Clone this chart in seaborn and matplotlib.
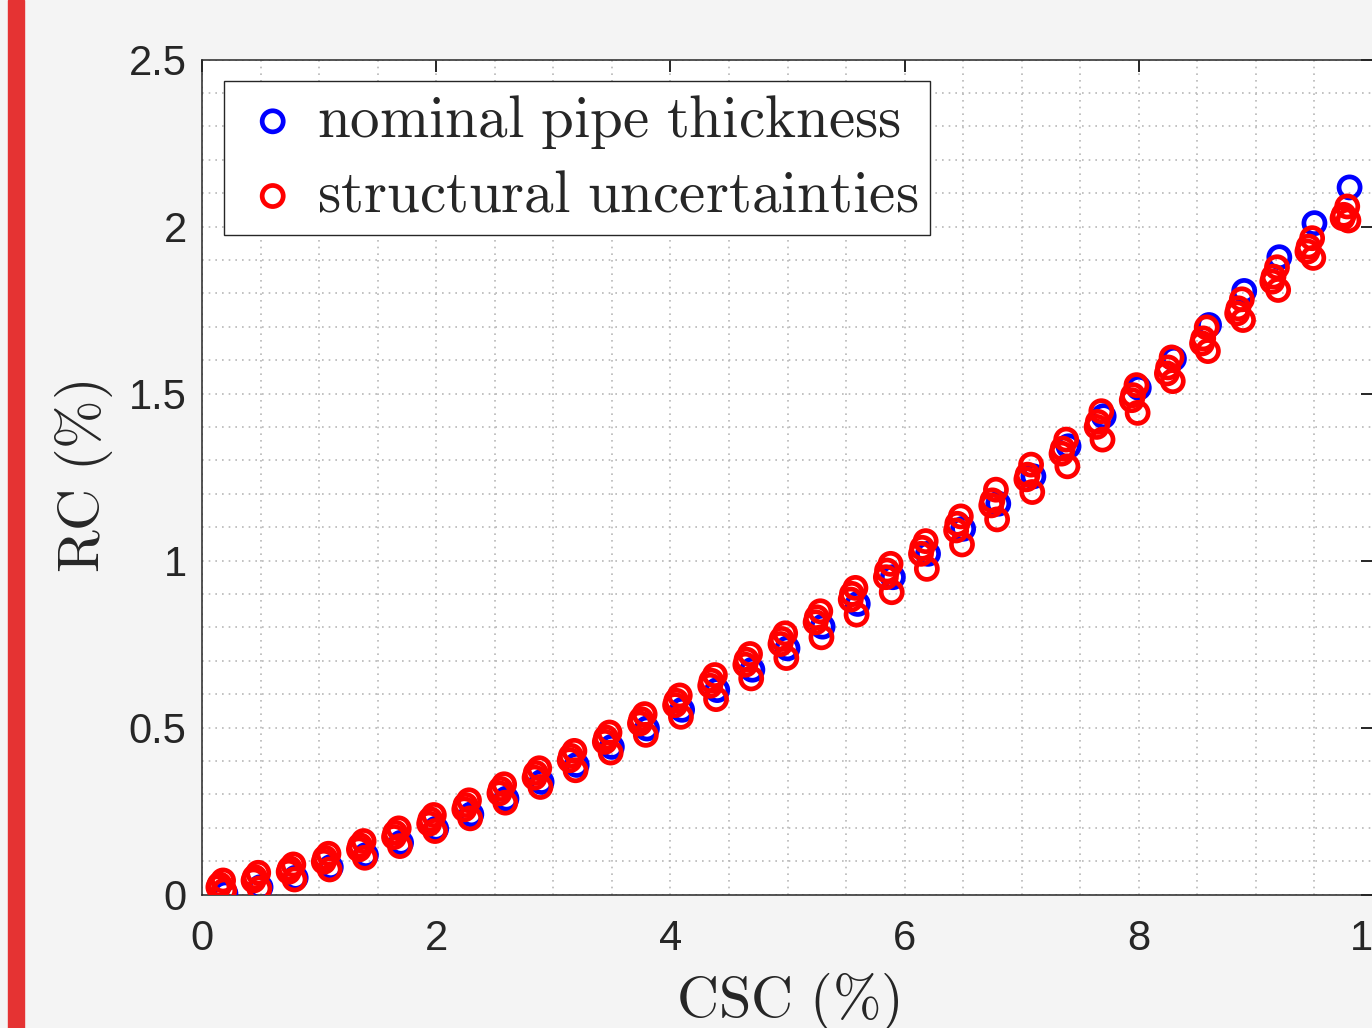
import pandas as pd
import matplotlib
matplotlib.use("Agg")
import matplotlib.pyplot as plt
from matplotlib.patches import Rectangle
from matplotlib.ticker import MultipleLocator
import seaborn as sns

# nominal pipe thickness (blue)
csc_nominal = [0.2, 0.5, 0.8, 1.1, 1.4, 1.7, 2.0, 2.3, 2.6, 2.9, 3.2, 3.5, 3.8, 4.1, 4.4, 4.7, 5.0,
               5.3, 5.6, 5.9, 6.2, 6.5, 6.8, 7.1, 7.4, 7.7, 8.0, 8.3, 8.6, 8.9, 9.2, 9.5, 9.8]
rc_nominal = [0.003, 0.022, 0.050, 0.082, 0.118, 0.155, 0.197, 0.240, 0.287, 0.337, 0.388, 0.442,
              0.497, 0.553, 0.612, 0.673, 0.737, 0.802, 0.870, 0.950, 1.020, 1.095, 1.170, 1.252,
              1.342, 1.432, 1.517, 1.604, 1.705, 1.807, 1.908, 2.010, 2.117]

# structural uncertainties (red), four samples per load step
csc_unc_a = [0.18, 0.48, 0.78, 1.08, 1.38, 1.68, 1.98, 2.28, 2.58, 2.88, 3.18, 3.48, 3.78, 4.08, 4.38,
             4.68, 4.98, 5.28, 5.58, 5.88, 6.18, 6.48, 6.78, 7.08, 7.38, 7.68, 7.98, 8.28, 8.58, 8.88,
             9.18, 9.48, 9.78]
rc_unc_a = [0.042, 0.065, 0.090, 0.122, 0.160, 0.198, 0.238, 0.282, 0.330, 0.378, 0.430, 0.485, 0.540,
            0.596, 0.657, 0.720, 0.782, 0.848, 0.918, 0.990, 1.058, 1.132, 1.212, 1.287, 1.362, 1.447,
            1.525, 1.608, 1.698, 1.782, 1.878, 1.965, 2.060]
csc_unc_b = [0.15, 0.45, 0.75, 1.05, 1.35, 1.65, 1.95, 2.25, 2.55, 2.85, 3.15, 3.45, 3.75, 4.05, 4.35,
             4.65, 4.95, 5.25, 5.55, 5.85, 6.15, 6.45, 6.75, 7.05, 7.35, 7.65, 7.95, 8.25, 8.55, 8.85,
             9.15, 9.45, 9.75]
rc_unc_b = [0.030, 0.052, 0.078, 0.110, 0.147, 0.185, 0.225, 0.268, 0.316, 0.364, 0.415, 0.470, 0.525,
            0.580, 0.640, 0.703, 0.765, 0.830, 0.900, 0.970, 1.038, 1.110, 1.180, 1.257, 1.335, 1.415,
            1.495, 1.578, 1.665, 1.755, 1.850, 1.940, 2.035]
csc_unc_c = [0.14, 0.44, 0.74, 1.04, 1.34, 1.64, 1.94, 2.24, 2.54, 2.84, 3.14, 3.44, 3.74, 4.04, 4.34,
             4.64, 4.94, 5.24, 5.54, 5.84, 6.14, 6.44, 6.74, 7.04, 7.34, 7.64, 7.94, 8.24, 8.54, 8.84,
             9.14, 9.44, 9.74]
rc_unc_c = [0.022, 0.042, 0.068, 0.098, 0.135, 0.172, 0.212, 0.255, 0.303, 0.350, 0.402, 0.457, 0.512,
            0.567, 0.625, 0.688, 0.750, 0.815, 0.883, 0.950, 1.020, 1.090, 1.165, 1.243, 1.320, 1.400,
            1.480, 1.560, 1.650, 1.740, 1.835, 1.925, 2.025]
csc_unc_d = [0.19, 0.49, 0.79, 1.09, 1.39, 1.69, 1.99, 2.29, 2.59, 2.89, 3.19, 3.49, 3.79, 4.09, 4.39,
             4.69, 4.99, 5.29, 5.59, 5.89, 6.19, 6.49, 6.79, 7.09, 7.39, 7.69, 7.99, 8.29, 8.59, 8.89,
             9.19, 9.49, 9.79]
rc_unc_d = [0.012, 0.018, 0.045, 0.075, 0.110, 0.145, 0.190, 0.228, 0.275, 0.322, 0.372, 0.425, 0.478,
            0.532, 0.585, 0.647, 0.708, 0.770, 0.838, 0.905, 0.975, 1.048, 1.123, 1.205, 1.282, 1.362,
            1.442, 1.537, 1.627, 1.720, 1.810, 1.906, 2.018]

x_ticks = [0, 2, 4, 6, 8, 10]
x_ticklabels = ["0", "2", "4", "6", "8", "10"]
y_ticks = [0, 0.5, 1, 1.5, 2, 2.5]
y_ticklabels = ["0", "0.5", "1", "1.5", "2", "2.5"]

nominal = pd.DataFrame({"CSC": csc_nominal, "RC": rc_nominal})
uncert = pd.DataFrame({
    "CSC": csc_unc_a + csc_unc_b + csc_unc_c + csc_unc_d,
    "RC": rc_unc_a + rc_unc_b + rc_unc_c + rc_unc_d,
})

sns.set_style("white")
plt.rcParams["font.family"] = ["Liberation Sans", "DejaVu Sans"]
plt.rcParams["mathtext.fontset"] = "cm"

fig = plt.figure(figsize=(13.72, 10.28), dpi=100, facecolor="#f4f4f4")
# red stripe on the left edge
fig.patches.append(Rectangle((8 / 1372, 0), 16 / 1372, 1, transform=fig.transFigure,
                             color="#e53333", zorder=0))
ax = fig.add_axes([202 / 1372, 133.5 / 1028, 1171 / 1372, 835 / 1028])
ax.set_facecolor("white")

blue = "#0000ff"
red = "#ff0000"
sns.scatterplot(data=nominal, x="CSC", y="RC", ax=ax, marker="o", s=230, linewidth=3.4,
                color=blue, zorder=3)
ax.collections[-1].set_facecolor("none")
ax.collections[-1].set_edgecolor(blue)
sns.scatterplot(data=uncert, x="CSC", y="RC", ax=ax, marker="o", s=230, linewidth=3.4,
                color=red, zorder=4)
ax.collections[-1].set_facecolor("none")
ax.collections[-1].set_edgecolor(red)

ax.set_xlim(0, 10)
ax.set_ylim(0, 2.5)
ax.set_xticks(x_ticks)
ax.set_xticklabels(x_ticklabels)
ax.set_yticks(y_ticks)
ax.set_yticklabels(y_ticklabels)
ax.xaxis.set_minor_locator(MultipleLocator(0.5))
ax.yaxis.set_minor_locator(MultipleLocator(0.1))
ax.grid(True, which="both", color="#b8b8b8", linestyle=(0, (1, 3)), linewidth=1.2)
ax.set_axisbelow(True)

ax.tick_params(which="major", direction="in", length=8.5, width=1.4, colors="#262626",
               labelsize=30, top=True, right=True)
ax.tick_params(axis="x", which="major", pad=18)
ax.tick_params(axis="y", which="major", pad=11)
ax.tick_params(which="minor", length=0)
for s in ax.spines.values():
    s.set_color("#262626")
    s.set_linewidth(1.1)

ax.set_xlabel(r"$\mathrm{CSC\ (\%)}$", fontsize=42, color="#262626", labelpad=8)
ax.set_ylabel(r"$\mathrm{RC\ (\%)}$", fontsize=42, color="#262626", labelpad=10)

handles = ax.collections[-2:]
leg = ax.legend(handles, [r"$\mathrm{nominal\ pipe\ thickness}$",
                          r"$\mathrm{structural\ uncertainties}$"],
                loc="upper left", bbox_to_anchor=(22 / 1171, (894.5 - 81) / 835),
                borderaxespad=0, fontsize=42.5, frameon=True, fancybox=False,
                borderpad=0.2, handlelength=1.25, handletextpad=0.12, labelspacing=0.3,
                scatterpoints=1)
leg.get_frame().set_edgecolor("#262626")
leg.get_frame().set_linewidth(1.0)
leg.get_frame().set_facecolor("white")
leg.get_frame().set_alpha(1)

fig.savefig("out.png", dpi=100, facecolor=fig.get_facecolor())
